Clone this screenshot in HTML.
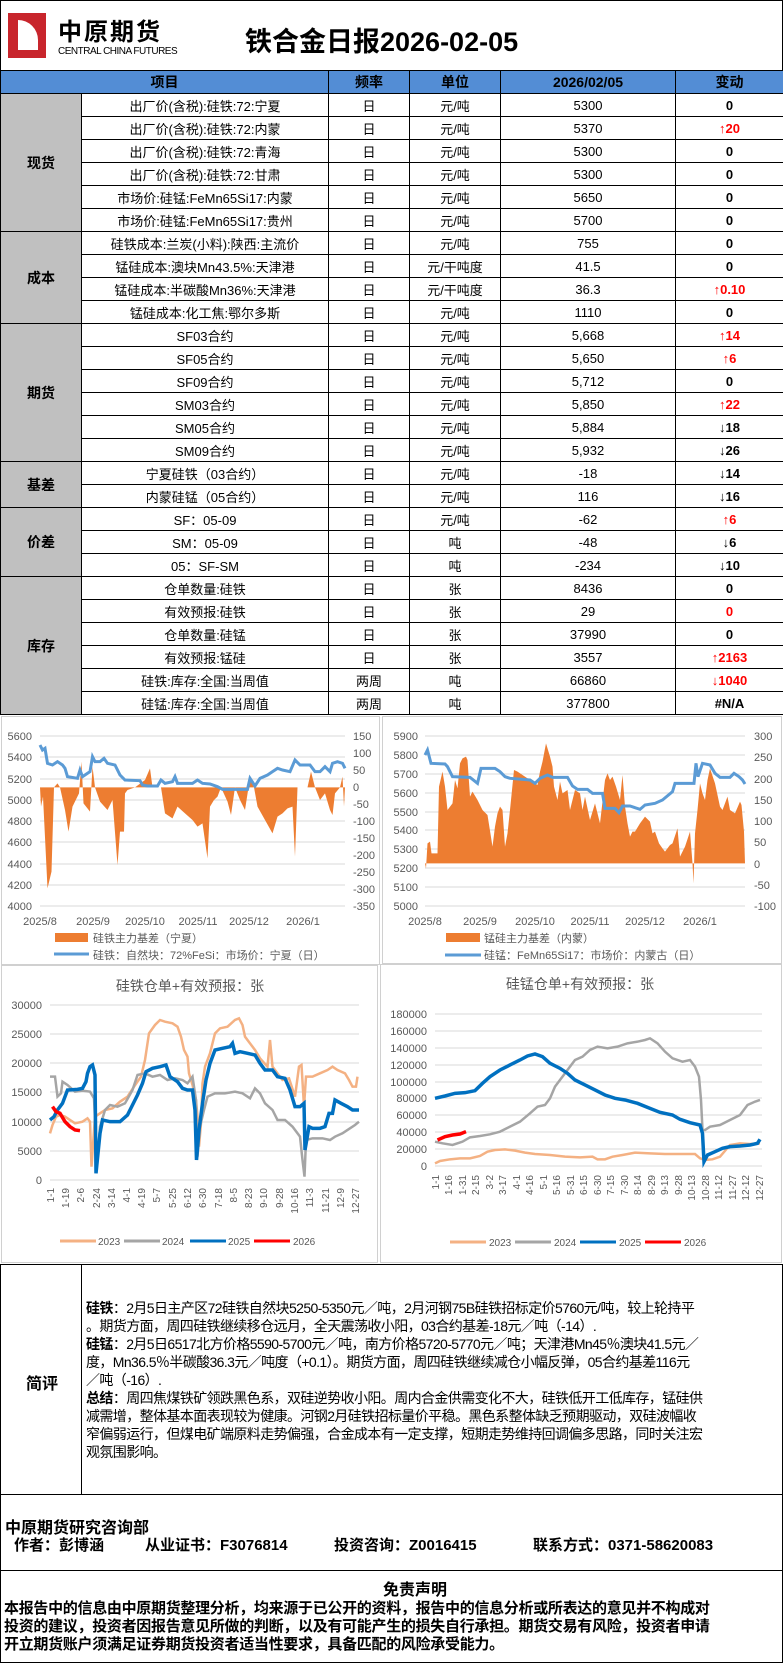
<!DOCTYPE html>
<html><head><meta charset="utf-8"><style>
*{margin:0;padding:0;box-sizing:border-box}
body{width:783px;height:1664px;position:relative;background:#fff;font-family:"Liberation Sans","Noto Sans CJK SC",sans-serif;overflow:hidden;color:#000}
.abs{position:absolute}
table{border-collapse:collapse;position:absolute;left:0;top:70px;width:783px;table-layout:fixed}
td{border:1px solid #000;height:23px;text-align:center;font-size:13px;padding:0;white-space:nowrap;overflow:hidden}
th{border:1px solid #000;height:23px;background:#538dd5;font-size:14px;font-weight:bold}
td.c{background:#c0c0c0;font-weight:bold;font-size:14px}
.b{font-weight:bold}.r{color:#f00;font-weight:bold}
.ch{border:1px solid #d0d0d0;position:absolute;background:#fff}
svg text{font-family:"Liberation Sans","Noto Sans CJK SC",sans-serif}
.sec{position:absolute;left:0;width:783px;border:1px solid #000}
</style></head><body>
<div class="abs" style="left:0;top:0;width:783px;height:70px;border:1px solid #000;border-bottom:none"></div>
<div class="abs" style="left:8px;top:13px;width:38px;height:45px;background:#c8252c"></div>
<div class="abs" style="left:18px;top:20px;width:20px;height:30px;background:#fff;border-radius:0 20px 0 0"></div>
<div class="abs" style="left:58px;top:12px;font-size:24px;font-weight:bold;letter-spacing:2px">中原期货</div>
<div class="abs" style="left:58px;top:46px;font-size:10px;letter-spacing:-0.5px">CENTRAL CHINA FUTURES</div>
<div class="abs" style="left:245px;top:20px;font-size:27px;font-weight:bold">铁合金日报2026-02-05</div>
<table>
<colgroup><col style="width:81px"><col style="width:247px"><col style="width:81px"><col style="width:91px"><col style="width:175px"><col style="width:108px"></colgroup>
<tr><th colspan="2">项目</th><th>频率</th><th>单位</th><th>2026/02/05</th><th>变动</th></tr>
<tr><td class="c" rowspan="6">现货</td><td>出厂价(含税):硅铁:72:宁夏</td><td>日</td><td>元/吨</td><td>5300</td><td class="b">0</td></tr>
<tr><td>出厂价(含税):硅铁:72:内蒙</td><td>日</td><td>元/吨</td><td>5370</td><td class="r">↑20</td></tr>
<tr><td>出厂价(含税):硅铁:72:青海</td><td>日</td><td>元/吨</td><td>5300</td><td class="b">0</td></tr>
<tr><td>出厂价(含税):硅铁:72:甘肃</td><td>日</td><td>元/吨</td><td>5300</td><td class="b">0</td></tr>
<tr><td>市场价:硅锰:FeMn65Si17:内蒙</td><td>日</td><td>元/吨</td><td>5650</td><td class="b">0</td></tr>
<tr><td>市场价:硅锰:FeMn65Si17:贵州</td><td>日</td><td>元/吨</td><td>5700</td><td class="b">0</td></tr>
<tr><td class="c" rowspan="4">成本</td><td>硅铁成本:兰炭(小料):陕西:主流价</td><td>日</td><td>元/吨</td><td>755</td><td class="b">0</td></tr>
<tr><td>锰硅成本:澳块Mn43.5%:天津港</td><td>日</td><td>元/干吨度</td><td>41.5</td><td class="b">0</td></tr>
<tr><td>锰硅成本:半碳酸Mn36%:天津港</td><td>日</td><td>元/干吨度</td><td>36.3</td><td class="r">↑0.10</td></tr>
<tr><td>锰硅成本:化工焦:鄂尔多斯</td><td>日</td><td>元/吨</td><td>1110</td><td class="b">0</td></tr>
<tr><td class="c" rowspan="6">期货</td><td>SF03合约</td><td>日</td><td>元/吨</td><td>5,668</td><td class="r">↑14</td></tr>
<tr><td>SF05合约</td><td>日</td><td>元/吨</td><td>5,650</td><td class="r">↑6</td></tr>
<tr><td>SF09合约</td><td>日</td><td>元/吨</td><td>5,712</td><td class="b">0</td></tr>
<tr><td>SM03合约</td><td>日</td><td>元/吨</td><td>5,850</td><td class="r">↑22</td></tr>
<tr><td>SM05合约</td><td>日</td><td>元/吨</td><td>5,884</td><td class="b">↓18</td></tr>
<tr><td>SM09合约</td><td>日</td><td>元/吨</td><td>5,932</td><td class="b">↓26</td></tr>
<tr><td class="c" rowspan="2">基差</td><td>宁夏硅铁（03合约）</td><td>日</td><td>元/吨</td><td>-18</td><td class="b">↓14</td></tr>
<tr><td>内蒙硅锰（05合约）</td><td>日</td><td>元/吨</td><td>116</td><td class="b">↓16</td></tr>
<tr><td class="c" rowspan="3">价差</td><td>SF：05-09</td><td>日</td><td>元/吨</td><td>-62</td><td class="r">↑6</td></tr>
<tr><td>SM：05-09</td><td>日</td><td>吨</td><td>-48</td><td class="b">↓6</td></tr>
<tr><td>05：SF-SM</td><td>日</td><td>吨</td><td>-234</td><td class="b">↓10</td></tr>
<tr><td class="c" rowspan="6">库存</td><td>仓单数量:硅铁</td><td>日</td><td>张</td><td>8436</td><td class="b">0</td></tr>
<tr><td>有效预报:硅铁</td><td>日</td><td>张</td><td>29</td><td class="r">0</td></tr>
<tr><td>仓单数量:硅锰</td><td>日</td><td>张</td><td>37990</td><td class="b">0</td></tr>
<tr><td>有效预报:锰硅</td><td>日</td><td>张</td><td>3557</td><td class="r">↑2163</td></tr>
<tr><td>硅铁:库存:全国:当周值</td><td>两周</td><td>吨</td><td>66860</td><td class="r">↓1040</td></tr>
<tr><td>硅锰:库存:全国:当周值</td><td>两周</td><td>吨</td><td>377800</td><td class="b">#N/A</td></tr>
</table>

<div class="ch" style="left:1px;top:716px;width:379px;height:249px"></div>
<div class="ch" style="left:382px;top:716px;width:400px;height:248px"></div>
<div class="ch" style="left:1px;top:965px;width:377px;height:298px"></div>
<div class="ch" style="left:380px;top:964px;width:402px;height:299px"></div>

<svg class="abs" style="left:0;top:0" width="783" height="1664">
<g stroke="#d9d9d9" stroke-width="1">
<line x1="40" x2="345" y1="736" y2="736"/><line x1="40" x2="345" y1="757" y2="757"/><line x1="40" x2="345" y1="779" y2="779"/><line x1="40" x2="345" y1="800" y2="800"/><line x1="40" x2="345" y1="821" y2="821"/><line x1="40" x2="345" y1="842" y2="842"/><line x1="40" x2="345" y1="864" y2="864"/><line x1="40" x2="345" y1="885" y2="885"/><line x1="40" x2="345" y1="906" y2="906"/>
<line x1="425" x2="745" y1="736" y2="736"/><line x1="425" x2="745" y1="755" y2="755"/><line x1="425" x2="745" y1="774" y2="774"/><line x1="425" x2="745" y1="793" y2="793"/><line x1="425" x2="745" y1="812" y2="812"/><line x1="425" x2="745" y1="830" y2="830"/><line x1="425" x2="745" y1="849" y2="849"/><line x1="425" x2="745" y1="868" y2="868"/><line x1="425" x2="745" y1="887" y2="887"/><line x1="425" x2="745" y1="906" y2="906"/>
<line x1="50" x2="359" y1="1005" y2="1005"/><line x1="50" x2="359" y1="1034" y2="1034"/><line x1="50" x2="359" y1="1063" y2="1063"/><line x1="50" x2="359" y1="1092" y2="1092"/><line x1="50" x2="359" y1="1122" y2="1122"/><line x1="50" x2="359" y1="1151" y2="1151"/><line x1="50" x2="359" y1="1180" y2="1180"/>
<line x1="435" x2="762" y1="1014" y2="1014"/><line x1="435" x2="762" y1="1031" y2="1031"/><line x1="435" x2="762" y1="1048" y2="1048"/><line x1="435" x2="762" y1="1065" y2="1065"/><line x1="435" x2="762" y1="1082" y2="1082"/><line x1="435" x2="762" y1="1098" y2="1098"/><line x1="435" x2="762" y1="1115" y2="1115"/><line x1="435" x2="762" y1="1132" y2="1132"/><line x1="435" x2="762" y1="1149" y2="1149"/><line x1="435" x2="762" y1="1166" y2="1166"/>
</g>
<g transform="translate(0,700) scale(0.5,0.33333)">
<polygon fill="#ed7d31" points="80,262 82,320 86,290 95,565 103,515 108,262 115,250 120,262 130,330 137,395 145,320 158,280 163,185 167,310 180,335 185,200 190,262 200,305 215,330 225,300 235,495 240,395 248,395 250,280 255,270 270,262 290,240 300,205 305,262 322,262 330,340 345,355 355,320 370,340 385,360 395,380 405,370 415,475 420,320 428,300 435,290 442,262 455,305 462,345 470,262 480,300 490,330 497,262 502,240 508,262 515,320 530,360 545,400 555,350 565,340 575,325 585,320 590,470 595,262 615,262 622,215 630,262 640,300 650,280 660,330 665,345 670,280 680,262 685,230 688,320 690,262"/>
<polyline fill="none" stroke="#5b9bd5" stroke-width="3" vector-effect="non-scaling-stroke" points="80,135 85,150 90,145 95,190 105,195 115,185 125,195 130,205 135,230 155,235 160,210 165,230 180,215 185,170 190,185 200,185 208,175 215,190 230,195 240,225 250,240 280,242 285,255 295,258 315,258 322,240 330,250 345,245 350,230 355,250 385,250 395,240 405,250 420,252 435,260 445,268 495,268 500,235 510,258 520,235 535,225 545,215 555,205 565,210 580,215 590,180 600,195 620,195 630,215 640,215 650,200 660,215 665,190 675,185 685,190 690,205"/>
<polygon fill="#ed7d31" points="850,490 852,505 855,430 860,425 863,460 875,460 878,260 885,215 890,260 895,330 905,310 910,240 915,265 920,190 925,175 932,170 935,180 940,290 945,275 955,300 965,330 975,345 985,440 990,380 995,340 1000,320 1005,330 1010,440 1015,400 1020,330 1028,210 1035,215 1045,225 1060,240 1075,255 1080,215 1085,185 1092,130 1100,170 1105,200 1108,260 1115,300 1120,245 1125,280 1135,270 1140,330 1145,300 1150,270 1160,280 1165,330 1170,290 1180,360 1190,310 1200,370 1210,240 1215,220 1220,240 1225,230 1232,260 1240,300 1245,225 1250,320 1255,370 1260,410 1265,395 1270,395 1280,370 1290,350 1300,365 1305,400 1310,395 1318,430 1325,445 1330,455 1340,435 1345,430 1355,385 1360,470 1370,440 1380,395 1385,490 1387,550 1390,400 1395,330 1400,250 1405,280 1410,300 1415,240 1420,205 1430,250 1440,320 1445,330 1455,290 1460,330 1470,340 1480,305 1483,315 1488,395 1490,490"/>
<polyline fill="none" stroke="#5b9bd5" stroke-width="3" vector-effect="non-scaling-stroke" points="850,165 855,150 862,190 890,192 895,200 905,230 940,232 955,250 962,205 990,205 1000,215 1010,230 1020,235 1060,240 1070,250 1080,235 1095,225 1105,232 1135,232 1145,258 1155,268 1175,268 1185,280 1205,280 1210,325 1230,325 1238,338 1245,318 1260,318 1280,328 1290,315 1310,310 1325,300 1345,275 1350,250 1388,250 1392,190 1396,230 1405,190 1420,195 1430,220 1440,232 1460,232 1468,220 1478,230 1485,240 1490,252"/>
<g fill="none" stroke-width="2.5" vector-effect="non-scaling-stroke">
<polyline stroke="#f4b183" vector-effect="non-scaling-stroke" points="100,1300 105,1275 112,1250 120,1245 130,1250 150,1270 165,1265 175,1255 180,1265 183,1400 190,1250 200,1240 210,1230 225,1225 240,1205 255,1190 268,1160 282,1130 290,1080 298,1000 310,975 320,960 330,965 345,970 355,980 362,1010 368,1050 375,1070 378,1120 385,1155 392,1200 395,1250 398,1340 402,1270 405,1150 410,1100 420,1060 430,1000 440,985 455,980 470,960 478,955 485,975 490,1010 500,1030 510,1050 520,1075 535,1100 540,1020 545,1100 555,1120 565,1140 578,1135 590,1190 598,1100 603,1095 608,1220 612,1130 625,1130 640,1120 655,1110 665,1100 675,1110 690,1120 698,1140 705,1160 712,1160 715,1130"/>
<polyline stroke="#a5a5a5" vector-effect="non-scaling-stroke" points="100,1130 110,1130 115,1190 122,1180 125,1145 135,1155 150,1175 165,1172 180,1175 188,1195 192,1330 196,1360 200,1280 210,1230 220,1215 235,1220 250,1210 265,1170 275,1125 290,1120 305,1130 320,1125 335,1140 350,1135 365,1140 375,1150 385,1130 392,1200 395,1370 400,1280 408,1230 415,1190 430,1180 450,1180 470,1175 485,1180 500,1195 510,1165 520,1180 530,1210 545,1230 555,1260 570,1260 585,1280 600,1310 605,1380 609,1430 612,1320 625,1315 645,1315 660,1320 670,1310 685,1300 700,1285 710,1275 718,1265"/>
<polyline stroke="#0070c0" stroke-width="3.5" vector-effect="non-scaling-stroke" points="100,1260 108,1250 115,1230 125,1210 135,1170 155,1168 165,1165 172,1145 175,1120 180,1100 185,1095 190,1125 192,1420 196,1360 200,1300 205,1260 220,1265 240,1265 255,1245 265,1215 275,1185 285,1150 292,1115 305,1105 320,1100 332,1095 340,1130 355,1145 365,1165 375,1170 385,1170 390,1230 393,1380 398,1290 405,1210 412,1140 420,1090 430,1050 445,1045 460,1040 465,1030 470,1060 480,1055 495,1060 510,1065 520,1090 530,1110 545,1110 555,1130 570,1135 580,1170 590,1220 600,1220 608,1210 610,1350 618,1280 625,1285 640,1285 650,1280 658,1240 665,1240 670,1200 682,1210 695,1220 705,1230 718,1230"/>
<polyline stroke="#ff0000" stroke-width="3.5" vector-effect="non-scaling-stroke" points="105,1220 112,1235 120,1240 130,1265 140,1280 150,1290 160,1292"/>
<polyline stroke="#f4b183" vector-effect="non-scaling-stroke" points="870,1390 880,1383 900,1378 920,1375 940,1375 960,1368 975,1355 990,1350 1010,1348 1030,1352 1050,1358 1070,1362 1100,1365 1130,1370 1160,1372 1185,1370 1195,1378 1210,1378 1225,1370 1245,1365 1270,1358 1300,1360 1330,1362 1390,1362 1400,1375 1410,1380 1425,1378 1440,1370 1460,1335 1480,1330 1500,1332 1520,1330"/>
<polyline stroke="#a5a5a5" vector-effect="non-scaling-stroke" points="870,1325 885,1330 905,1335 925,1325 940,1312 960,1308 980,1303 1000,1295 1020,1280 1040,1265 1060,1240 1075,1220 1090,1215 1100,1195 1110,1160 1125,1130 1140,1100 1150,1080 1165,1070 1180,1050 1195,1040 1215,1045 1235,1040 1255,1030 1275,1025 1290,1020 1300,1015 1315,1030 1330,1055 1345,1075 1365,1085 1380,1080 1390,1100 1398,1130 1402,1200 1405,1290 1410,1290 1420,1280 1440,1275 1460,1260 1480,1245 1495,1215 1510,1205 1520,1200"/>
<polyline stroke="#0070c0" stroke-width="3.5" vector-effect="non-scaling-stroke" points="870,1195 890,1188 910,1180 930,1178 950,1172 965,1150 980,1130 1000,1110 1020,1095 1040,1080 1055,1068 1070,1062 1085,1070 1100,1090 1120,1105 1135,1120 1150,1140 1170,1155 1190,1170 1210,1185 1230,1195 1250,1200 1275,1210 1300,1225 1320,1237 1345,1245 1360,1258 1380,1268 1400,1275 1405,1300 1408,1385 1415,1365 1430,1355 1445,1345 1460,1340 1480,1338 1500,1335 1515,1330 1520,1318"/>
<polyline stroke="#ff0000" stroke-width="3.5" vector-effect="non-scaling-stroke" points="875,1320 890,1310 905,1305 920,1302 932,1295"/>
</g>
</g>
<g font-size="11" fill="#595959">
<g text-anchor="end"><text x="32" y="740">5600</text><text x="32" y="761">5400</text><text x="32" y="783">5200</text><text x="32" y="804">5000</text><text x="32" y="825">4800</text><text x="32" y="846">4600</text><text x="32" y="868">4400</text><text x="32" y="889">4200</text><text x="32" y="910">4000</text>
<text x="418" y="740">5900</text><text x="418" y="759">5800</text><text x="418" y="778">5700</text><text x="418" y="797">5600</text><text x="418" y="816">5500</text><text x="418" y="834">5400</text><text x="418" y="853">5300</text><text x="418" y="872">5200</text><text x="418" y="891">5100</text><text x="418" y="910">5000</text>
<text x="42" y="1009">30000</text><text x="42" y="1038">25000</text><text x="42" y="1067">20000</text><text x="42" y="1096">15000</text><text x="42" y="1126">10000</text><text x="42" y="1155">5000</text><text x="42" y="1184">0</text>
<text x="427" y="1018">180000</text><text x="427" y="1035">160000</text><text x="427" y="1052">140000</text><text x="427" y="1069">120000</text><text x="427" y="1086">100000</text><text x="427" y="1102">80000</text><text x="427" y="1119">60000</text><text x="427" y="1136">40000</text><text x="427" y="1153">20000</text><text x="427" y="1170">0</text></g>
<text x="353" y="740">150</text><text x="353" y="757">100</text><text x="353" y="774">50</text><text x="353" y="791">0</text><text x="353" y="808">-50</text><text x="353" y="825">-100</text><text x="353" y="842">-150</text><text x="353" y="859">-200</text><text x="353" y="876">-250</text><text x="353" y="893">-300</text><text x="353" y="910">-350</text>
<text x="754" y="740">300</text><text x="754" y="761">250</text><text x="754" y="783">200</text><text x="754" y="804">150</text><text x="754" y="825">100</text><text x="754" y="846">50</text><text x="754" y="868">0</text><text x="754" y="889">-50</text><text x="754" y="910">-100</text>
<g text-anchor="middle"><text x="40" y="925">2025/8</text><text x="93" y="925">2025/9</text><text x="145" y="925">2025/10</text><text x="198" y="925">2025/11</text><text x="249" y="925">2025/12</text><text x="303" y="925">2026/1</text>
<text x="425" y="925">2025/8</text><text x="480" y="925">2025/9</text><text x="535" y="925">2025/10</text><text x="590" y="925">2025/11</text><text x="645" y="925">2025/12</text><text x="700" y="925">2026/1</text></g>
<text x="93" y="942">硅铁主力基差（宁夏）</text><text x="93" y="959">硅铁：自然块：72%FeSi：市场价：宁夏（日）</text>
<text x="484" y="942">锰硅主力基差（内蒙）</text><text x="484" y="959">硅锰：FeMn65Si17：市场价：内蒙古（日）</text>
</g>
<rect x="55" y="933" width="33" height="9" fill="#ed7d31"/><line x1="54" x2="89" y1="954" y2="954" stroke="#5b9bd5" stroke-width="3"/>
<rect x="446" y="933" width="34" height="9" fill="#ed7d31"/><line x1="445" x2="481" y1="955" y2="955" stroke="#5b9bd5" stroke-width="3"/>
<text x="190" y="991" font-size="14" fill="#595959" text-anchor="middle">硅铁仓单+有效预报：张</text>
<text x="580" y="989" font-size="14" fill="#595959" text-anchor="middle">硅锰仓单+有效预报：张</text>
<g font-size="10" fill="#595959" text-anchor="end">
<text transform="translate(54,1188) rotate(-90)">1-1</text><text transform="translate(69,1188) rotate(-90)">1-19</text><text transform="translate(84,1188) rotate(-90)">2-6</text><text transform="translate(100,1188) rotate(-90)">2-24</text><text transform="translate(115,1188) rotate(-90)">3-14</text><text transform="translate(130,1188) rotate(-90)">4-1</text><text transform="translate(145,1188) rotate(-90)">4-19</text><text transform="translate(160,1188) rotate(-90)">5-7</text><text transform="translate(176,1188) rotate(-90)">5-25</text><text transform="translate(191,1188) rotate(-90)">6-12</text><text transform="translate(206,1188) rotate(-90)">6-30</text><text transform="translate(222,1188) rotate(-90)">7-18</text><text transform="translate(237,1188) rotate(-90)">8-5</text><text transform="translate(252,1188) rotate(-90)">8-23</text><text transform="translate(267,1188) rotate(-90)">9-10</text><text transform="translate(283,1188) rotate(-90)">9-28</text><text transform="translate(298,1188) rotate(-90)">10-16</text><text transform="translate(313,1188) rotate(-90)">11-3</text><text transform="translate(329,1188) rotate(-90)">11-21</text><text transform="translate(344,1188) rotate(-90)">12-9</text><text transform="translate(359,1188) rotate(-90)">12-27</text>
<text transform="translate(439,1175) rotate(-90)">1-1</text><text transform="translate(452,1175) rotate(-90)">1-16</text><text transform="translate(466,1175) rotate(-90)">1-31</text><text transform="translate(479,1175) rotate(-90)">2-15</text><text transform="translate(493,1175) rotate(-90)">3-2</text><text transform="translate(506,1175) rotate(-90)">3-17</text><text transform="translate(520,1175) rotate(-90)">4-1</text><text transform="translate(533,1175) rotate(-90)">4-16</text><text transform="translate(547,1175) rotate(-90)">5-1</text><text transform="translate(560,1175) rotate(-90)">5-16</text><text transform="translate(574,1175) rotate(-90)">5-31</text><text transform="translate(587,1175) rotate(-90)">6-15</text><text transform="translate(601,1175) rotate(-90)">6-30</text><text transform="translate(614,1175) rotate(-90)">7-15</text><text transform="translate(628,1175) rotate(-90)">7-30</text><text transform="translate(641,1175) rotate(-90)">8-14</text><text transform="translate(655,1175) rotate(-90)">8-29</text><text transform="translate(668,1175) rotate(-90)">9-13</text><text transform="translate(682,1175) rotate(-90)">9-28</text><text transform="translate(695,1175) rotate(-90)">10-13</text><text transform="translate(709,1175) rotate(-90)">10-28</text><text transform="translate(722,1175) rotate(-90)">11-12</text><text transform="translate(736,1175) rotate(-90)">11-27</text><text transform="translate(749,1175) rotate(-90)">12-12</text><text transform="translate(763,1175) rotate(-90)">12-27</text>
</g>
<g font-size="10" fill="#595959">
<line x1="60" x2="96" y1="1241" y2="1241" stroke="#f4b183" stroke-width="3"/><text x="98" y="1245">2023</text>
<line x1="124" x2="160" y1="1241" y2="1241" stroke="#a5a5a5" stroke-width="3"/><text x="162" y="1245">2024</text>
<line x1="190" x2="226" y1="1241" y2="1241" stroke="#0070c0" stroke-width="3"/><text x="228" y="1245">2025</text>
<line x1="254" x2="290" y1="1241" y2="1241" stroke="#f00" stroke-width="3"/><text x="293" y="1245">2026</text>
<line x1="450" x2="486" y1="1242" y2="1242" stroke="#f4b183" stroke-width="3"/><text x="489" y="1246">2023</text>
<line x1="515" x2="551" y1="1242" y2="1242" stroke="#a5a5a5" stroke-width="3"/><text x="554" y="1246">2024</text>
<line x1="580" x2="616" y1="1242" y2="1242" stroke="#0070c0" stroke-width="3"/><text x="619" y="1246">2025</text>
<line x1="645" x2="681" y1="1242" y2="1242" stroke="#f00" stroke-width="3"/><text x="684" y="1246">2026</text>
</g>
</svg>

<div class="sec" style="top:1264px;height:231px"></div>
<div class="abs" style="left:81px;top:1264px;width:1px;height:231px;background:#000"></div>
<div class="abs" style="left:26px;top:1370px;font-size:16px;font-weight:bold">简评</div>
<div class="abs" style="left:86px;top:1299px;font-size:14px;line-height:18px;white-space:nowrap;letter-spacing:-0.6px">
<b>硅铁</b>：2月5日主产区72硅铁自然块5250-5350元／吨，2月河钢75B硅铁招标定价5760元/吨，较上轮持平<br>。期货方面，周四硅铁继续移仓远月，全天震荡收小阳，03合约基差-18元／吨（-14）.<br>
<b>硅锰</b>：2月5日6517北方价格5590-5700元／吨，南方价格5720-5770元／吨；天津港Mn45％澳块41.5元／<br>度，Mn36.5％半碳酸36.3元／吨度（+0.1）。期货方面，周四硅铁继续减仓小幅反弹，05合约基差116元<br>／吨（-16）.<br>
<b>总结</b>：周四焦煤铁矿领跌黑色系，双硅逆势收小阳。周内合金供需变化不大，硅铁低开工低库存，锰硅供<br>减需增，整体基本面表现较为健康。河钢2月硅铁招标量价平稳。黑色系整体缺乏预期驱动，双硅波幅收<br>窄偏弱运行，但煤电矿端原料走势偏强，合金成本有一定支撑，短期走势维持回调偏多思路，同时关注宏<br>观氛围影响。</div>
<div class="sec" style="top:1494px;height:77px"></div>
<div class="abs" style="left:5px;top:1514px;font-size:16px;font-weight:bold">中原期货研究咨询部</div>
<div class="abs" style="left:14px;top:1534px;font-size:15px;font-weight:bold;white-space:nowrap">作者：彭博涵</div>
<div class="abs" style="left:145px;top:1534px;font-size:15px;font-weight:bold;white-space:nowrap">从业证书：F3076814</div>
<div class="abs" style="left:334px;top:1534px;font-size:15px;font-weight:bold;white-space:nowrap">投资咨询：Z0016415</div>
<div class="abs" style="left:533px;top:1534px;font-size:15px;font-weight:bold;white-space:nowrap">联系方式：0371-58620083</div>
<div class="sec" style="top:1570px;height:93px"></div>
<div class="abs" style="left:383px;top:1582px;font-size:16px;line-height:18px;font-weight:bold">免责声明</div>
<div class="abs" style="left:4px;top:1600px;font-size:15px;font-weight:bold;line-height:18px;white-space:nowrap;letter-spacing:-0.3px">本报告中的信息由中原期货整理分析，均来源于已公开的资料，报告中的信息分析或所表达的意见并不构成对<br>投资的建议，投资者因报告意见所做的判断，以及有可能产生的损失自行承担。期货交易有风险，投资者申请<br>开立期货账户须满足证券期货投资者适当性要求，具备匹配的风险承受能力。</div>
</body></html>
